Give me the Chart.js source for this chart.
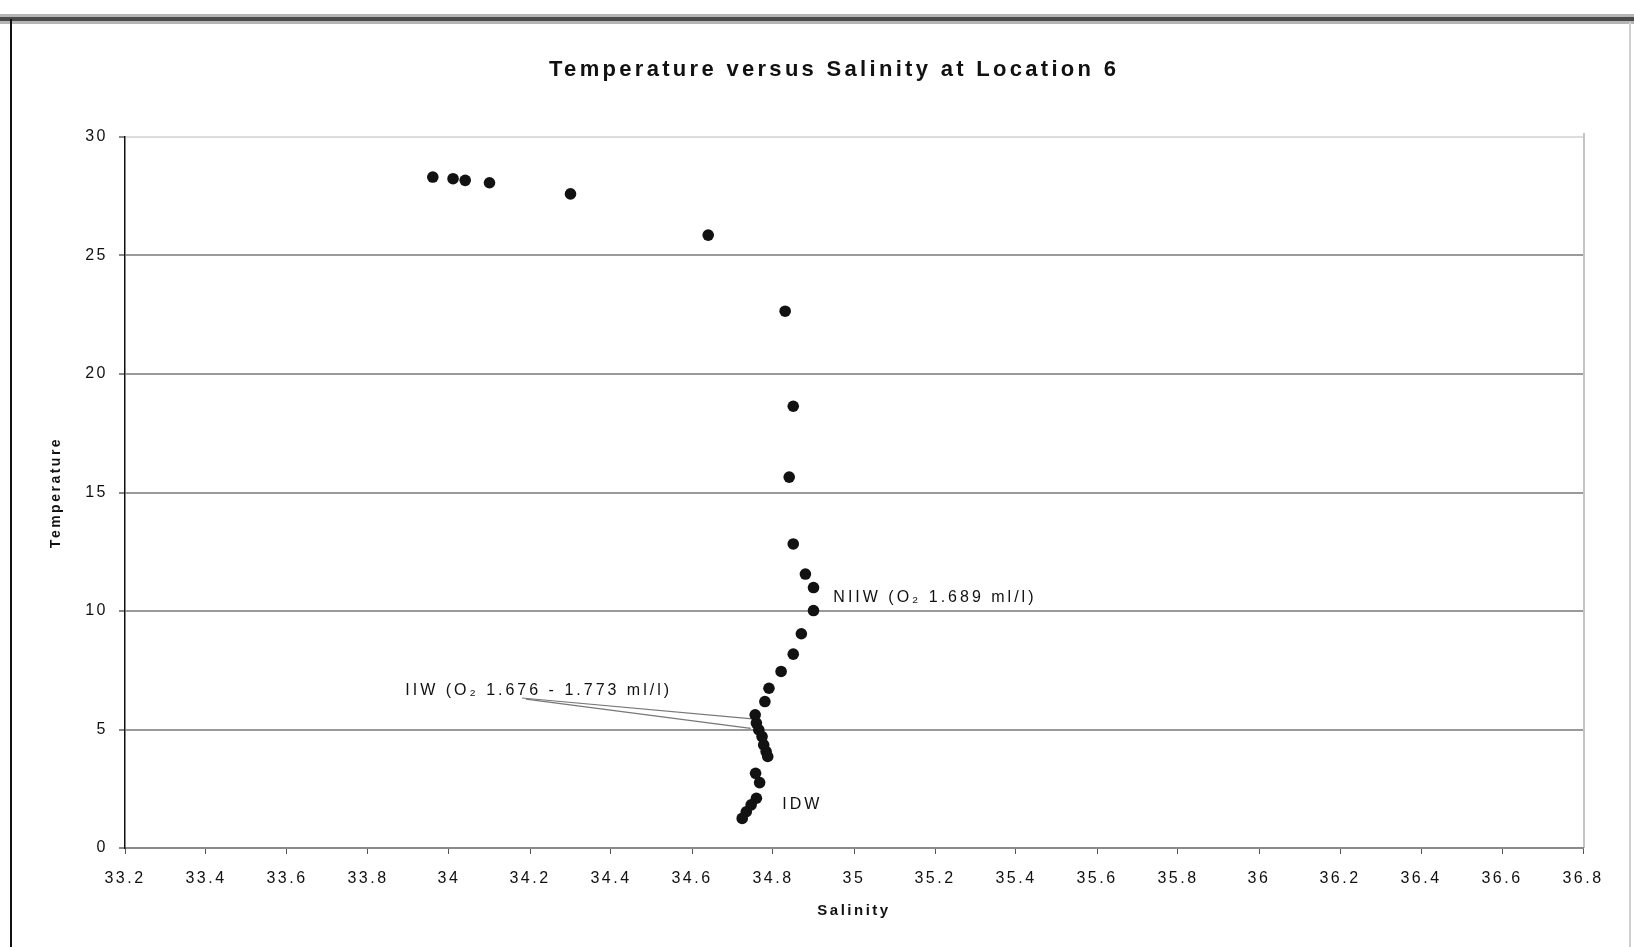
<!DOCTYPE html>
<html>
<head>
<meta charset="utf-8">
<script src="https://cdn.jsdelivr.net/npm/chart.js@4/dist/chart.umd.min.js"></script>
<style>
  body { margin: 0; background: #fff; }
  canvas { display: block; }
</style>
</head>
<body>
<canvas id="grafico" width="1634" height="947"></canvas>
<script>
// values
const salinity = [
  33.96, 34.01, 34.04, 34.10, 34.30, 34.64, 34.83, 34.85, 34.84, 34.85,
  34.88, 34.90, 34.90, 34.87, 34.85, 34.82, 34.79, 34.78, 34.756, 34.759,
  34.765, 34.773, 34.777, 34.783, 34.787, 34.757, 34.767, 34.759, 34.746, 34.734, 34.724
];
const temperature = [
  28.31, 28.24, 28.17, 28.07, 27.60, 25.86, 22.65, 18.64, 15.65, 12.83,
  11.56, 10.99, 10.02, 9.04, 8.18, 7.45, 6.74, 6.18, 5.62, 5.27,
  4.98, 4.70, 4.35, 4.07, 3.86, 3.15, 2.76, 2.10, 1.82, 1.53, 1.25
];
const xTicks = [33.2, 33.4, 33.6, 33.8, 34, 34.2, 34.4, 34.6, 34.8, 35, 35.2, 35.4, 35.6, 35.8, 36, 36.2, 36.4, 36.6, 36.8];
const yTicks = [0, 5, 10, 15, 20, 25, 30];

const chartTitle = 'Temperature versus Salinity at Location 6';
const noteText = ['NIIW (O\u2082 1.689 ml/l)', 'IIW (O\u2082 1.676 - 1.773 ml/l)', 'IDW'];
const noteX = [34.949, 33.892, 34.823];
const noteY = [10.56, 6.65, 1.82];
// leader lines from the IIW label to the points
const leaderFrom = [[34.18, 6.33], [34.19, 6.28]];
const leaderTo = [[34.749, 5.45], [34.745, 5.05]];

const FONT = '"Liberation Sans", Arial, sans-serif';
Chart.defaults.font.family = FONT;

const spacing = {
  id: 'spacing',
  beforeLayout(chart) { chart.ctx.letterSpacing = '2.5px'; },
  beforeDraw(chart) { chart.ctx.letterSpacing = '2.5px'; }
};

const decor = {
  id: 'decor',
  beforeDraw(chart) {
    const ctx = chart.ctx;
    const a = chart.chartArea;
    ctx.save();
    ctx.fillStyle = '#fff';
    ctx.fillRect(0, 0, chart.width, chart.height);
    // scanned frame
    ctx.fillStyle = '#b5b5b5';
    ctx.fillRect(0, 14, chart.width, 10);
    ctx.fillStyle = '#4a4a4a';
    ctx.fillRect(0, 17, chart.width, 4);
    ctx.fillStyle = '#111';
    ctx.fillRect(10, 19, 2, chart.height - 19);
    ctx.fillStyle = '#d0d0d0';
    ctx.fillRect(1629, 22, 2, chart.height - 22);
    // right edge of plot
    ctx.fillStyle = '#c4c4c4';
    ctx.fillRect(a.right, a.top - 4, 2, a.bottom - a.top + 4);
    ctx.restore();
  },
  beforeDatasetsDraw(chart) {
    const ctx = chart.ctx;
    const x = chart.scales.x, y = chart.scales.y;
    ctx.save();
    ctx.strokeStyle = '#777';
    ctx.lineWidth = 1.2;
    leaderFrom.forEach((p, i) => {
      ctx.beginPath();
      ctx.moveTo(x.getPixelForValue(p[0]), y.getPixelForValue(p[1]));
      ctx.lineTo(x.getPixelForValue(leaderTo[i][0]), y.getPixelForValue(leaderTo[i][1]));
      ctx.stroke();
    });
    ctx.restore();
  },
  afterDraw(chart) {
    const ctx = chart.ctx;
    const x = chart.scales.x, y = chart.scales.y;
    ctx.save();
    ctx.fillStyle = '#111';
    ctx.textBaseline = 'middle';
    ctx.textAlign = 'left';
    ctx.font = '16px ' + FONT;
    ctx.letterSpacing = '3px';
    noteText.forEach((t, i) => {
      ctx.fillText(t, x.getPixelForValue(noteX[i]), y.getPixelForValue(noteY[i]));
    });
    // title, stretched like the scan
    ctx.font = 'bold 22px ' + FONT;
    ctx.letterSpacing = '0px';
    const w0 = ctx.measureText(chartTitle).width;
    ctx.letterSpacing = ((567 - w0) / (chartTitle.length - 1)) + 'px';
    ctx.fillStyle = '#111';
    ctx.fillText(chartTitle, 549, 70);
    ctx.restore();
  }
};

const ctx = document.getElementById('grafico').getContext('2d');
const grafico = new Chart(ctx, {
  type: 'scatter',
  data: {
    datasets: [{
      data: salinity.map((s, i) => ({ x: s, y: temperature[i] })),
      backgroundColor: '#121212',
      borderWidth: 0,
      pointRadius: 5.8,
      pointHoverRadius: 5.8
    }]
  },
  options: {
    responsive: false,
    devicePixelRatio: 1,
    animation: false,
    layout: { padding: { top: 137, right: 51, left: 0, bottom: 0 } },
    plugins: {
      legend: { display: false },
      tooltip: { enabled: false }
    },
    scales: {
      x: {
        type: 'linear',
        min: 33.2,
        max: 36.8,
        afterBuildTicks: s => { s.ticks = xTicks.map(v => ({ value: v })); },
        afterFit: s => { s.height = 99; },
        ticks: {
          callback: v => String(+v.toFixed(1)),
          font: { size: 16 },
          color: '#111',
          padding: 15,
          maxRotation: 0,
          autoSkip: false
        },
        grid: { drawOnChartArea: false, drawTicks: true, tickLength: 6, color: '#555', lineWidth: 1 },
        border: { color: '#8a8a8a', width: 2 },
        title: {
          display: true,
          text: 'Salinity',
          font: { size: 15, weight: 'bold' },
          color: '#111',
          padding: { top: 0, bottom: 27 }
        }
      },
      y: {
        min: 0,
        max: 30,
        afterBuildTicks: s => { s.ticks = yTicks.map(v => ({ value: v })); },
        afterFit: s => { s.width = 125; },
        ticks: { font: { size: 16 }, color: '#111', padding: 11 },
        grid: {
          color: c => (c.tick && c.tick.value === 30) ? '#dddddd' : '#9a9a9a',
          lineWidth: 2,
          drawTicks: true,
          tickLength: 6,
          tickColor: '#111',
          tickWidth: 1
        },
        border: { color: '#111', width: 1.5 },
        title: {
          display: true,
          text: 'Temperature',
          font: { size: 14, weight: 'bold' },
          color: '#111',
          padding: { top: 48, bottom: 0 }
        }
      }
    }
  },
  plugins: [spacing, decor]
});
</script>
</body>
</html>
